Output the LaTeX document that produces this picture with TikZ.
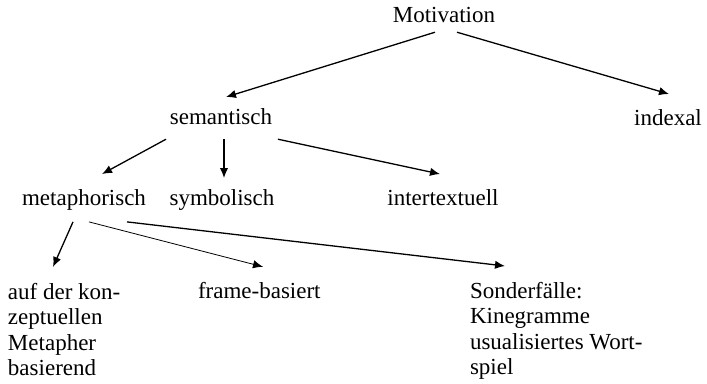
\documentclass[tikz,border=0pt]{standalone}
\usepackage{fontspec}
\setmainfont{Liberation Serif}
\usetikzlibrary{arrows.meta}
\begin{document}
\begin{tikzpicture}[x=0.5pt,y=-0.5pt,
  lbl/.style={inner sep=0pt,outer sep=0pt,font=\fontsize{11.5}{12.8}\selectfont},
  multi/.style={lbl,align=left,anchor=north west},
  arr/.style={-{Latex[length=5pt,width=4.2pt]},line width=0.65pt},
  arrthin/.style={arr,line width=0.4pt}]
\useasboundingbox (0,0) rectangle (707,384);
% labels, placed on their baselines
\node[lbl,anchor=base] (mot) at (444,23) {Motivation};
\node[lbl,anchor=base] (sem) at (221,125) {semantisch};
\node[lbl,anchor=base] (idx) at (668,126) {indexal};
\node[lbl,anchor=base] (met) at (84,206) {metaphorisch};
\node[lbl,anchor=base] (sym) at (222,206) {symbolisch};
\node[lbl,anchor=base] (int) at (443,206) {intertextuell};
\node[multi] (auf) at (8,283) {auf der kon-\\zeptuellen\\Metapher\\basierend};
\node[lbl,anchor=base west] (frm) at (198,299) {frame-basiert};
\node[multi] (son) at (470,282) {Sonderfälle:\\Kinegramme\\usualisiertes Wort-\\spiel};
% connectors
\draw[arr] ([shift={(-9,9)}]mot.south) -- ([shift={(5,-12)}]sem.north);
\draw[arr] ([shift={(13,9)}]mot.south) -- ([shift={(1,-16)}]idx.north);
\draw[arr] ([shift={(-55,14)}]sem.south) -- ([shift={(18,-16)}]met.north);
\draw[arr] ([shift={(3,14)}]sem.south) -- ([shift={(2,-12)}]sym.north);
\draw[arr] ([shift={(57,14)}]sem.south) -- ([shift={(-3,-16)}]int.north);
\draw[arr] ([shift={(-11,11)}]met.south) -- ([shift={(45,-16)}]auf.north west);
\draw[arrthin] ([shift={(5,11)}]met.south) -- ([shift={(65,-16)}]frm.north west);
\draw[arr] ([shift={(43,11)}]met.south) -- ([shift={(35,-16)}]son.north west);
\end{tikzpicture}
\end{document}
